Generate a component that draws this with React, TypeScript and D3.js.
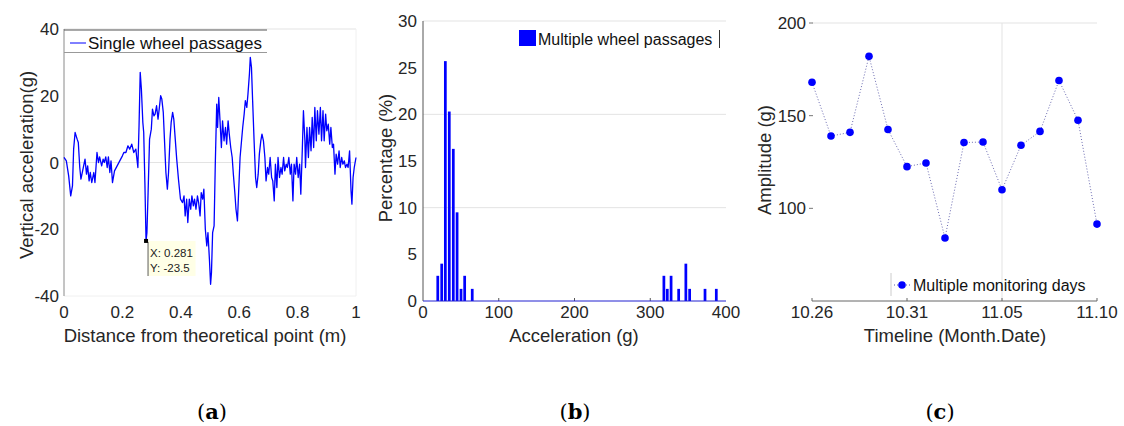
import { useEffect, useRef } from 'react';
import * as d3 from 'd3';

// (a) single wheel passage signal
const distance = [0, 0.008, 0.016, 0.023, 0.029, 0.033, 0.038, 0.045, 0.049, 0.054, 0.058, 0.065, 0.072, 0.077, 0.081, 0.086, 0.09, 0.095, 0.102, 0.106, 0.113, 0.118, 0.122, 0.129, 0.134, 0.138, 0.143, 0.148, 0.152, 0.157, 0.161, 0.166, 0.173, 0.182, 0.191, 0.2, 0.205, 0.212, 0.219, 0.225, 0.232, 0.239, 0.246, 0.253, 0.257, 0.261, 0.265, 0.27, 0.273, 0.277, 0.281, 0.284, 0.288, 0.293, 0.299, 0.303, 0.308, 0.312, 0.317, 0.322, 0.326, 0.331, 0.335, 0.34, 0.344, 0.349, 0.354, 0.358, 0.363, 0.367, 0.372, 0.376, 0.381, 0.386, 0.392, 0.399, 0.406, 0.411, 0.415, 0.42, 0.424, 0.429, 0.434, 0.438, 0.443, 0.447, 0.452, 0.457, 0.461, 0.466, 0.47, 0.475, 0.479, 0.484, 0.489, 0.493, 0.498, 0.502, 0.505, 0.509, 0.514, 0.518, 0.523, 0.526, 0.53, 0.534, 0.539, 0.543, 0.548, 0.553, 0.557, 0.562, 0.566, 0.571, 0.576, 0.58, 0.585, 0.589, 0.594, 0.598, 0.603, 0.608, 0.612, 0.617, 0.621, 0.626, 0.63, 0.635, 0.638, 0.642, 0.646, 0.651, 0.656, 0.66, 0.665, 0.669, 0.674, 0.678, 0.683, 0.688, 0.692, 0.697, 0.701, 0.706, 0.711, 0.715, 0.72, 0.724, 0.729, 0.733, 0.738, 0.743, 0.747, 0.752, 0.756, 0.761, 0.765, 0.77, 0.775, 0.779, 0.784, 0.788, 0.793, 0.797, 0.802, 0.807, 0.811, 0.816, 0.82, 0.825, 0.827, 0.832, 0.837, 0.841, 0.846, 0.85, 0.855, 0.859, 0.864, 0.868, 0.873, 0.878, 0.882, 0.887, 0.891, 0.896, 0.9, 0.905, 0.91, 0.914, 0.919, 0.923, 0.928, 0.932, 0.937, 0.942, 0.946, 0.951, 0.955, 0.96, 0.964, 0.969, 0.973, 0.978, 0.983, 0.986, 0.99, 0.994, 1.0];
const accel = [1.5, 0.5, -4, -10, -7, 4, 9, 7, 6, -1.5, -5, -2, 1, -3.5, -1, -5.5, -3, -6, -3, -6, 3, 0, 1.7, -1, 1, 0, 1.7, -1.5, 1.7, -3, 0.5, -6, -2.5, -1, 0.5, 2, 3, 3, 5, 4, 5.5, 3, 4, -1.5, 11, 27, 22, 12, 9, -6, -23.5, -21, -9, 7, 10, 16, 14, 14.5, 17, 13, 16, 20, 19, 15, 7, -3, -8, -3, 7, 12, 15, 13, 7, 1, -5, -11, -12, -10, -16, -11, -18, -11, -14, -10, -13, -11, -14, -10, -12, -16, -9, -11, -8, -20, -25, -21, -29, -36.5, -33, -21, -19, -1, 17.5, 10.5, 19.5, 13, 4.5, 12.5, 6.5, 10.5, 5.5, 12.5, 8.5, 4.5, 1.5, -3.5, -9, -14, -17.5, -9, 1.5, 6.5, 10.5, 14.5, 18.5, 16.5, 20.5, 26.5, 31.5, 28.5, 18.5, 6.5, -4.5, -7.5, -3.5, 2.5, 6.5, 8.5, 6.5, 1.5, -5.5, -1.5, -3.5, 1.5, -4.5, -5.5, -11.5, -0.5, -7.5, 1.5, -4.5, -1.5, -3.5, 1.5, -2.5, -0.5, -1.5, 1.5, -3.5, -0.5, -11.5, -0.5, -3.5, 1.5, -4.5, -0.5, -9.5, 3.5, 15.5, 6.5, -1.5, 10.5, 1.5, 10.5, 3.5, 13.5, 4.5, 16.5, 6.5, 15.5, 8.5, 16.5, 6.5, 15.5, 6.5, 14.5, 9.5, 11.5, 5.5, 10.5, 4.5, 5.5, -3.5, 2.5, -0.5, 3.5, -1.5, 1.5, -0.5, 0.5, -1.5, -0.5, -1.5, 3.5, -8.5, -12.5, -4.5, -1.5, 1.5];
const tipX = 0.281;
const tipY = -23.5;

// (b) histogram of multiple wheel passages
const binCenters = [19.5, 24.7, 29.5, 34.7, 40, 45, 50.2, 55, 65, 318, 322.5, 327.5, 337.5, 347, 352, 372.3, 387.2];
const binPercent = [2.7, 4, 25.7, 20.3, 16.3, 9.5, 1.3, 2.7, 1.3, 2.7, 1.3, 2.7, 1.3, 4, 1.3, 1.3, 1.3];

// (c) amplitude per monitoring day
const days = ['10.26', '10.27', '10.28', '10.29', '10.30', '10.31', '11.01', '11.02', '11.03', '11.04', '11.05', '11.06', '11.07', '11.08', '11.09', '11.10'];
const amplitude = [168, 139, 141, 182, 142.5, 122.5, 124.5, 84, 135.5, 135.8, 110, 134, 141.5, 169, 147.5, 91.5];
const dayTicks = ['10.26', '10.31', '11.05', '11.10'];

const FONT = 'Liberation Sans, Arial, sans-serif';
const TXT = '#262626';
const GRID = '#e3e3e3';
const BLUE = '#0000ff';

export default function App() {
  const ref = useRef<SVGSVGElement>(null);

  useEffect(() => {
    const svg = d3.select(ref.current);
    svg.selectAll('*').remove();

    const tickText = (g: any, x: number, y: number, s: string, anchor: string) =>
      g.append('text').attr('x', x).attr('y', y).attr('text-anchor', anchor)
        .attr('font-family', FONT).attr('font-size', 17).attr('fill', TXT).text(s);

    const yLabel = (x: number, y: number, s: string) =>
      svg.append('text').attr('transform', `translate(${x},${y}) rotate(-90)`)
        .attr('text-anchor', 'middle').attr('font-family', FONT).attr('font-size', 18.5)
        .attr('fill', TXT).text(s);

    const xLabel = (x: number, s: string) =>
      svg.append('text').attr('x', x).attr('y', 342).attr('text-anchor', 'middle')
        .attr('font-family', FONT).attr('font-size', 18.5).attr('fill', TXT).text(s);

    // ---------- (a) ----------
    const xa = d3.scaleLinear().domain([0, 1]).range([64, 356]);
    const ya = d3.scaleLinear().domain([-40, 40]).range([296, 29]);
    const ga = svg.append('g');

    ga.append('line').attr('x1', xa(0)).attr('x2', xa(1)).attr('y1', ya(0)).attr('y2', ya(0)).attr('stroke', GRID);
    ga.append('line').attr('x1', xa(0)).attr('x2', xa(1)).attr('y1', ya(40)).attr('y2', ya(40)).attr('stroke', GRID);
    ga.append('line').attr('x1', xa(1)).attr('x2', xa(1)).attr('y1', ya(40)).attr('y2', ya(-40)).attr('stroke', '#f0f0f0');
    ga.append('line').attr('x1', xa(0)).attr('x2', xa(1)).attr('y1', ya(-40)).attr('y2', ya(-40)).attr('stroke', '#f0f0f0');
    ga.append('line').attr('x1', xa(0)).attr('x2', xa(0)).attr('y1', ya(40)).attr('y2', ya(-40)).attr('stroke', '#8a8a8a');

    [-40, -20, 0, 20, 40].forEach((v) => tickText(ga, 59, ya(v) + 6, String(v), 'end'));
    [0, 0.2, 0.4, 0.6, 0.8, 1].forEach((v) => tickText(ga, xa(v), 318, String(v), 'middle'));

    const line = d3.line<number>().x((_, i) => xa(distance[i])).y((d) => ya(d));
    ga.append('path').datum(accel).attr('d', line).attr('fill', 'none')
      .attr('stroke', BLUE).attr('stroke-width', 1.3).attr('stroke-linejoin', 'round');

    // legend
    ga.append('line').attr('x1', xa(0)).attr('x2', 267).attr('y1', 30).attr('y2', 30).attr('stroke', '#555');
    ga.append('line').attr('x1', xa(0)).attr('x2', 267).attr('y1', 52.5).attr('y2', 52.5).attr('stroke', '#999');
    ga.append('rect').attr('x', 65).attr('y', 31).attr('width', 201).attr('height', 21).attr('fill', '#fff');
    ga.append('line').attr('x1', 70).attr('x2', 86).attr('y1', 43).attr('y2', 43).attr('stroke', BLUE);
    ga.append('text').attr('x', 88).attr('y', 48.5).attr('font-family', FONT).attr('font-size', 17)
      .attr('fill', '#111').text('Single wheel passages');

    // data tip
    const tx = xa(tipX), ty = ya(tipY);
    ga.append('rect').attr('x', tx + 1.5).attr('y', ty).attr('width', 48).attr('height', 35).attr('fill', '#ffffe6');
    ga.append('line').attr('x1', tx + 2).attr('x2', tx + 2).attr('y1', ty + 1).attr('y2', ty + 35).attr('stroke', '#777').attr('stroke-width', 1.2);
    ga.append('rect').attr('x', tx - 2).attr('y', ty - 2).attr('width', 4).attr('height', 4).attr('fill', '#000');
    ga.append('text').attr('x', tx + 4).attr('y', ty + 16).attr('font-family', FONT).attr('font-size', 11.5).attr('fill', '#222').text(`X: ${tipX}`);
    ga.append('text').attr('x', tx + 4).attr('y', ty + 31).attr('font-family', FONT).attr('font-size', 11.5).attr('fill', '#222').text(`Y: ${tipY}`);

    yLabel(33, 165, 'Vertical acceleration(g)');
    xLabel(205, 'Distance from theoretical point (m)');

    // ---------- (b) ----------
    const xb = d3.scaleLinear().domain([0, 400]).range([423, 726]);
    const yb = d3.scaleLinear().domain([0, 30]).range([301, 21]);
    const gb = svg.append('g');

    [10, 20, 30].forEach((v) => gb.append('line').attr('x1', xb(0)).attr('x2', xb(400))
      .attr('y1', yb(v)).attr('y2', yb(v)).attr('stroke', GRID));
    gb.append('line').attr('x1', xb(0)).attr('x2', xb(0)).attr('y1', yb(30)).attr('y2', yb(0)).attr('stroke', '#555');
    [100, 200, 300].forEach((v) => gb.append('line').attr('x1', xb(v)).attr('x2', xb(v))
      .attr('y1', yb(0)).attr('y2', yb(0) - 3).attr('stroke', '#555'));

    [0, 5, 10, 15, 20, 25, 30].forEach((v) => tickText(gb, 417, yb(v) + 6, String(v), 'end'));
    [0, 100, 200, 300, 400].forEach((v) => tickText(gb, xb(v), 318, String(v), 'middle'));

    gb.selectAll('rect.bar').data(binCenters).join('rect').attr('class', 'bar')
      .attr('x', (d) => xb(d - 1.8))
      .attr('width', xb(3.6) - xb(0))
      .attr('y', (_, i) => yb(binPercent[i]))
      .attr('height', (_, i) => yb(0) - yb(binPercent[i]))
      .attr('fill', BLUE);
    gb.append('line').attr('x1', xb(0)).attr('x2', xb(400)).attr('y1', yb(0)).attr('y2', yb(0)).attr('stroke', '#2020d0');

    gb.append('rect').attr('x', 519).attr('y', 30).attr('width', 17).attr('height', 16).attr('fill', BLUE);
    gb.append('text').attr('x', 538).attr('y', 44.5).attr('font-family', FONT).attr('font-size', 16)
      .attr('fill', '#111').text('Multiple wheel passages');
    gb.append('line').attr('x1', 719.5).attr('x2', 719.5).attr('y1', 30).attr('y2', 48).attr('stroke', '#333');

    yLabel(392, 158, 'Percentage (%)');
    xLabel(574, 'Acceleration (g)');

    // ---------- (c) ----------
    const xc = d3.scalePoint<string>().domain(days).range([812, 1097]);
    const yc = d3.scaleLinear().domain([50, 200]).range([301, 23]);
    const gc = svg.append('g');

    gc.append('line').attr('x1', 812).attr('x2', 1097).attr('y1', yc(200)).attr('y2', yc(200)).attr('stroke', GRID);
    gc.append('line').attr('x1', xc('11.05')!).attr('x2', xc('11.05')!).attr('y1', yc(200)).attr('y2', yc(50)).attr('stroke', GRID);
    gc.append('line').attr('x1', 812).attr('x2', 1097).attr('y1', yc(50)).attr('y2', yc(50)).attr('stroke', '#666');
    [100, 150, 200].forEach((v) => gc.append('line').attr('x1', 809).attr('x2', 813)
      .attr('y1', yc(v)).attr('y2', yc(v)).attr('stroke', '#777'));
    dayTicks.forEach((t) => gc.append('line').attr('x1', xc(t)!).attr('x2', xc(t)!)
      .attr('y1', yc(50)).attr('y2', yc(50) - 3).attr('stroke', '#666'));

    [100, 150, 200].forEach((v) => tickText(gc, 806, yc(v) + 6, String(v), 'end'));
    dayTicks.forEach((t) => tickText(gc, xc(t)!, 318, t, 'middle'));

    const lc = d3.line<number>().x((_, i) => xc(days[i])!).y((d) => yc(d));
    gc.append('path').datum(amplitude).attr('d', lc).attr('fill', 'none')
      .attr('stroke', '#5a5aa8').attr('stroke-width', 0.9).attr('stroke-dasharray', '1,2');
    gc.selectAll('circle.pt').data(amplitude).join('circle').attr('class', 'pt')
      .attr('cx', (_, i) => xc(days[i])!).attr('cy', (d) => yc(d)).attr('r', 3.8).attr('fill', BLUE);

    gc.append('line').attr('x1', 891).attr('x2', 891).attr('y1', 273).attr('y2', 296).attr('stroke', '#ccc');
    gc.append('line').attr('x1', 894).attr('x2', 911).attr('y1', 285).attr('y2', 285)
      .attr('stroke', '#5a5aa8').attr('stroke-dasharray', '1,2');
    gc.append('circle').attr('cx', 902).attr('cy', 285).attr('r', 3.8).attr('fill', BLUE);
    gc.append('text').attr('x', 913).attr('y', 290.5).attr('font-family', FONT).attr('font-size', 16)
      .attr('fill', '#111').text('Multiple monitoring days');

    yLabel(771, 160, 'Amplitude (g)');
    xLabel(955, 'Timeline (Month.Date)');

    // panel letters
    [['a', 212], ['b', 575], ['c', 940]].forEach(([l, x]) => {
      const t = svg.append('text').attr('x', x as number).attr('y', 419).attr('text-anchor', 'middle')
        .attr('font-family', 'DejaVu Serif, Liberation Serif, serif').attr('font-size', 21).attr('fill', '#000');
      t.append('tspan').text('(');
      t.append('tspan').attr('font-weight', 'bold').text(l as string);
      t.append('tspan').text(')');
    });
  }, []);

  return (
    <svg ref={ref} width={1124} height={426}
      style={{ position: 'absolute', left: 0, top: 0, background: '#fff' }} />
  );
}
